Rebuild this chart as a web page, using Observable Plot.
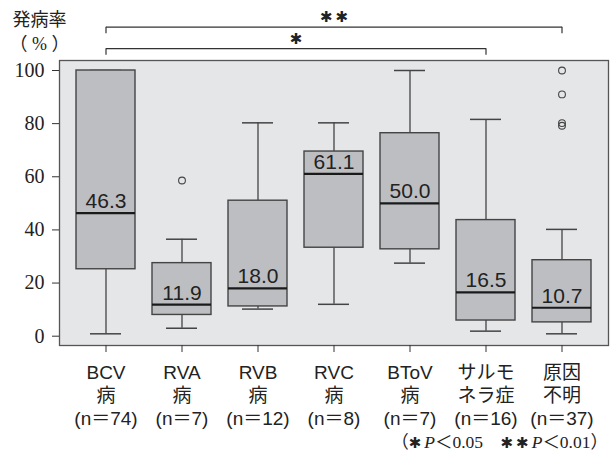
<!DOCTYPE html>
<html>
<head>
<meta charset="utf-8">
<script src="https://cdn.jsdelivr.net/npm/d3@7"></script>
<script src="https://cdn.jsdelivr.net/npm/@observablehq/plot@0.6"></script>
<style>
  body { margin: 0; background: #fff; }
  #wrap { position: relative; width: 616px; height: 461px; }
  #note { position: absolute; right: 8px; top: 428px; font-family: "Liberation Serif", "Noto Sans CJK JP", serif; font-size: 17.5px; color: #222; white-space: nowrap; }
  #note i { font-style: italic; }
  #note b { font-family: "DejaVu Sans"; font-weight: 400; font-size: 15px; letter-spacing: 3px; }
</style>
</head>
<body>
<div id="wrap"><div id="note">（<b>✱</b><i>P</i>＜0.05　<b>✱✱</b><i>P</i>＜0.01）</div></div>
<script>
const categories = ["BCV病", "RVA病", "RVB病", "RVC病", "BToV病", "サルモネラ症", "原因不明"];
const labelLine1 = ["BCV", "RVA", "RVB", "RVC", "BToV", "サルモ", "原因"];
const labelLine2 = ["病", "病", "病", "病", "病", "ネラ症", "不明"];
const nCounts = [74, 7, 12, 8, 7, 16, 37];
const medians = [46.3, 11.9, 18.0, 61.1, 50.0, 16.5, 10.7];
const q1 = [25.2, 8.0, 11.2, 33.3, 32.7, 5.9, 5.2];
const q3 = [100, 27.5, 51.0, 69.5, 76.4, 43.7, 28.6];
const whiskerLow = [0.9, 3.0, 10.2, 12.0, 27.5, 1.9, 0.9];
const whiskerHigh = [100, 36.5, 80.3, 80.3, 100, 81.6, 40.2];
const outlierCats = ["RVA病", "原因不明", "原因不明", "原因不明", "原因不明"];
const outlierValues = [58.6, 100, 91.0, 80.2, 79.2];
const yTicks = [0, 20, 40, 60, 80, 100];
const comparisons = [
  {from: "BCV病", to: "原因不明", label: "✱✱"},
  {from: "BCV病", to: "サルモネラ症", label: "✱"}
];

const stats = categories.map((c, i) => ({
  cat: c, med: medians[i], q1: q1[i], q3: q3[i], lo: whiskerLow[i], hi: whiskerHigh[i]
}));
const outliers = outlierCats.map((c, i) => ({cat: c, v: outlierValues[i]}));
const tickLabel = new Map(categories.map((c, i) => [c, `${labelLine1[i]}\n${labelLine2[i]}\n(n＝${nCounts[i]})`]));

// bracket levels (in y units, above the 100 line)
const levels = [116.3, 108.2];
const drop = 2.5;
const brackets = comparisons.map((d, i) => ({...d, y: levels[i]}));

const sans = "'Liberation Sans', 'Noto Sans CJK JP', sans-serif";
const serif = "'Liberation Serif', 'Noto Sans CJK JP', serif";

// force font styles inline on a text mark's group
const fontStyle = (family, size) => (index, scales, values, dims, ctx, next) => {
  const g = next(index, scales, values, dims, ctx);
  g.style.fontFamily = family;
  g.style.fontSize = size + "px";
  return g;
};

const chart = Plot.plot({
  width: 616,
  height: 461,
  marginLeft: 59,
  marginRight: 8,
  marginTop: 60,
  marginBottom: 116,
  style: {background: "transparent", color: "#222"},
  x: {type: "band", domain: categories, paddingInner: 0.2175, paddingOuter: 0.189},
  y: {domain: [0, 100], range: [335.7, 70]},
  marks: [
    Plot.frame({fill: "#e5e6e8", stroke: null}),
    // whiskers
    Plot.ruleX(stats, {x: "cat", y1: "lo", y2: "q1", stroke: "#444", strokeWidth: 1.3}),
    Plot.ruleX(stats, {x: "cat", y1: "q3", y2: "hi", stroke: "#444", strokeWidth: 1.3}),
    Plot.tickY(stats, {x: "cat", y: "lo", stroke: "#444", strokeWidth: 1.5, insetLeft: 14, insetRight: 14}),
    Plot.tickY(stats, {x: "cat", y: "hi", stroke: "#444", strokeWidth: 1.5, insetLeft: 14, insetRight: 14}),
    // boxes
    Plot.barY(stats, {x: "cat", y1: "q1", y2: "q3", fill: "#bdbec1", stroke: "#444", strokeWidth: 1.4}),
    Plot.tickY(stats, {x: "cat", y: "med", stroke: "#1a1a1a", strokeWidth: 2.2}),
    Plot.text(stats, {x: "cat", y: "med", text: d => d.med.toFixed(1), dy: -5, lineAnchor: "bottom",
      fontSize: 21, fill: "#222", render: fontStyle(sans, 21)}),
    // outliers
    Plot.dot(outliers, {x: "cat", y: "v", r: 3.4, stroke: "#444", strokeWidth: 1.1, fill: "none"}),
    Plot.frame({stroke: "#555", strokeWidth: 1.3}),
    // axes: ticks from the axis marks, labels as text marks on the same scales
    Plot.axisY({ticks: yTicks, tickSize: 7, text: null, label: null, stroke: "#333"}),
    Plot.text(yTicks, {y: d => d, text: d => String(d), frameAnchor: "left", dx: -15, textAnchor: "end",
      fontSize: 20, fill: "#222", render: fontStyle(serif, 20)}),
    Plot.axisX({tickSize: 7, text: null, label: null, stroke: "#333"}),
    Plot.text(categories, {x: d => d, text: d => tickLabel.get(d), frameAnchor: "bottom", dy: 17, lineAnchor: "top",
      fontSize: 19, lineHeight: 1.21, fill: "#222", render: fontStyle(sans, 19)}),
    // y label
    Plot.text(["発病率\n（ % ）"], {frameAnchor: "top-left", dx: -20, dy: -30, lineAnchor: "middle", textAnchor: "middle",
      fontSize: 18, lineHeight: 1.3, fill: "#222", render: fontStyle(serif, 18)}),
    // significance brackets
    Plot.link(brackets, {x1: "from", x2: "to", y1: "y", y2: "y", stroke: "#333", strokeWidth: 1.2}),
    Plot.ruleX(brackets, {x: "from", y1: "y", y2: d => d.y - drop, stroke: "#333", strokeWidth: 1.2}),
    Plot.ruleX(brackets, {x: "to", y1: "y", y2: d => d.y - drop, stroke: "#333", strokeWidth: 1.2}),
    Plot.text(brackets, {
      x: d => d.from, y: "y", text: "label", dy: -5, lineAnchor: "bottom", fontSize: 15, fill: "#222",
      render: (index, scales, values, dims, ctx, next) => {
        const g = next(index, scales, values, dims, ctx);
        g.style.fontFamily = "'DejaVu Sans'";
        g.style.fontSize = "15px";
        g.style.letterSpacing = "3px";
        d3.select(g).selectAll("text").each(function(_, j) {
          const b = brackets[index[j]];
          const cx = (scales.x(b.from) + scales.x(b.to)) / 2 + 1.5;
          d3.select(this).attr("transform", `translate(${cx},${scales.y(b.y)})`);
        });
        return g;
      }
    })
  ]
});
document.getElementById("wrap").prepend(chart);
</script>
</body>
</html>
